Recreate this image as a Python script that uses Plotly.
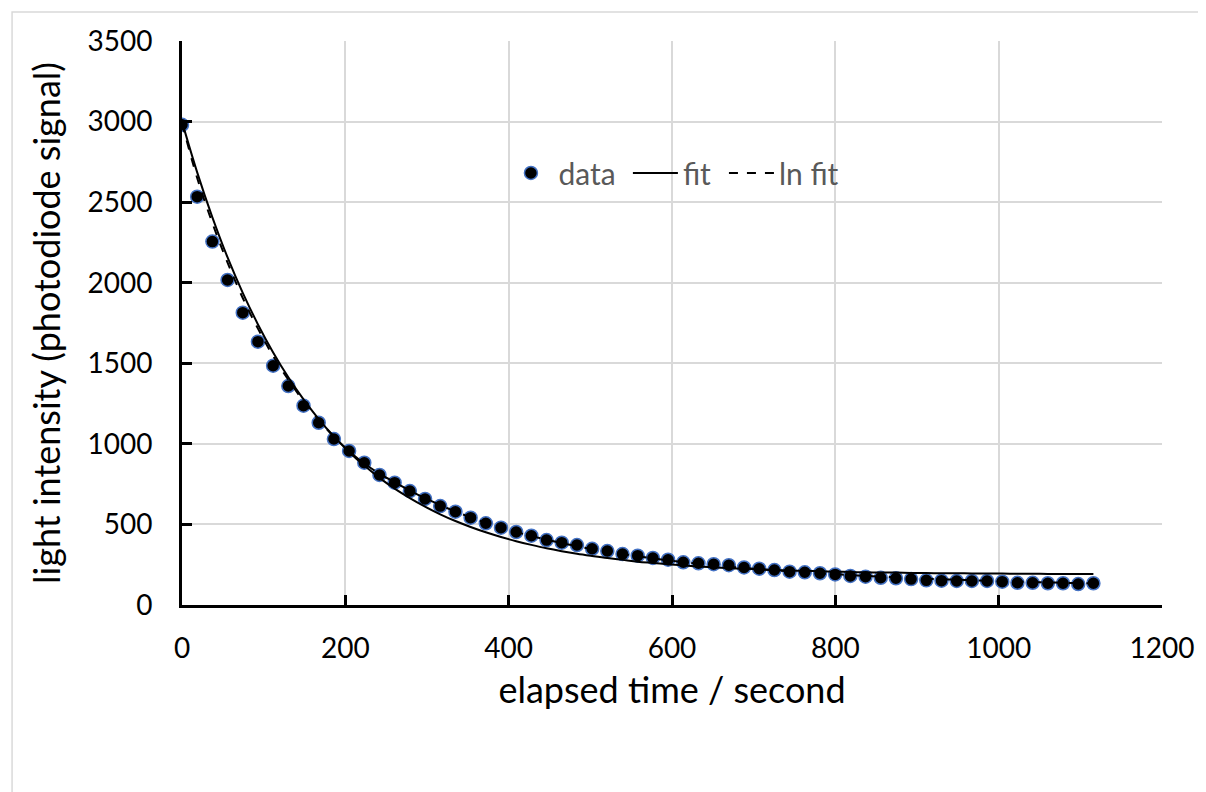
import plotly.graph_objects as go

# elapsed time (s)
time_s = [0, 18.6, 37.2, 55.8, 74.4, 93, 111.6, 130.2, 148.8, 167.4, 186, 204.6, 223.2,
          241.8, 260.4, 279, 297.6, 316.2, 334.8, 353.4, 372, 390.6, 409.2, 427.8, 446.4,
          465, 483.6, 502.2, 520.8, 539.4, 558, 576.6, 595.2, 613.8, 632.4, 651, 669.6,
          688.2, 706.8, 725.4, 744, 762.6, 781.2, 799.8, 818.4, 837, 855.6, 874.2, 892.8,
          911.4, 930, 948.6, 967.2, 985.8, 1004.4, 1023, 1041.6, 1060.2, 1078.8, 1097.4, 1116]

# measured photodiode signal
data_vals = [2980, 2534, 2255, 2017, 1814, 1634, 1485, 1359, 1237, 1131, 1030, 956, 883,
             807, 759, 707, 658, 614, 579, 542, 507, 480, 453, 430, 403,
             387, 372, 349, 335, 316, 306, 292, 281, 265, 259, 253, 247,
             233, 225, 217, 207, 203, 197, 190, 180, 176, 169, 166, 161,
             153, 151, 149, 149, 149, 145, 138, 138, 135, 135, 130, 135]

# exponential fit (solid line)
fit_vals = [3000, 2685, 2406, 2157, 1937, 1741, 1567, 1413, 1276, 1154, 1046, 950, 865,
            789, 722, 663, 610, 563, 521, 484, 451, 422, 396, 373, 352,
            334, 318, 304, 291, 280, 269, 261, 253, 246, 239, 234, 229,
            225, 221, 217, 214, 212, 209, 207, 205, 203, 202, 201, 199,
            198, 197, 197, 196, 195, 195, 194, 194, 193, 193, 193, 192]

# ln fit (dashed line)
lnfit_vals = [2990, 2650, 2370, 2125, 1905, 1715, 1545, 1398, 1265, 1148, 1045, 955, 878,
              815, 762, 710, 663, 620, 580, 544, 510, 480, 453, 428, 405,
              384, 365, 347, 331, 316, 302, 289, 277, 266, 256, 247, 238,
              230, 223, 216, 209, 203, 197, 191, 186, 181, 176, 172, 168,
              164, 160, 157, 154, 151, 148, 145, 143, 140, 138, 136, 134]

x_ticks = [0, 200, 400, 600, 800, 1000, 1200]
y_ticks = [0, 500, 1000, 1500, 2000, 2500, 3000, 3500]

FONT = "Lato"

fig = go.Figure()
fig.add_trace(go.Scatter(
    x=time_s, y=data_vals, mode="markers", name="data", legend="legend",
    marker=dict(size=13, color="black", line=dict(color="#4472C4", width=1.5)),
))
fig.add_trace(go.Scatter(
    x=time_s, y=fit_vals, mode="lines", name="fit", line_shape="spline", legend="legend2",
    line=dict(color="black", width=2),
))
fig.add_trace(go.Scatter(
    x=time_s, y=lnfit_vals, mode="lines", name="ln fit", line_shape="spline", legend="legend3",
    line=dict(color="black", width=2, dash="dash"),
))

legend_common = dict(
    orientation="h", y=0.766, xanchor="left", yanchor="middle",
    font=dict(family=FONT, size=30, color="#595959"),
    bgcolor="rgba(0,0,0,0)", itemwidth=45,
)

# page has an 8px body margin, so the figure is sized/positioned to compensate
fig.update_layout(
    width=1198, height=784, autosize=False,
    margin=dict(l=174, r=38, t=33, b=187),
    paper_bgcolor="white", plot_bgcolor="white",
    font=dict(family=FONT, color="black"),
    showlegend=True,
    legend=dict(x=0.328, **legend_common),
    legend2=dict(x=0.455, **legend_common),
    legend3=dict(x=0.553, **legend_common),
    xaxis=dict(
        range=[0, 1200], tickvals=x_ticks, ticktext=[str(v) for v in x_ticks],
        showgrid=True, gridcolor="#d9d9d9", gridwidth=1.5, zeroline=False,
        showline=True, linecolor="black", linewidth=3,
        ticks="inside", ticklen=10, tickwidth=3, tickcolor="black",
        tickfont=dict(family=FONT, size=28, color="black"),
        ticklabelstandoff=16,
        title=dict(text="elapsed time / second", font=dict(family=FONT, size=36, color="black"), standoff=16),
    ),
    yaxis=dict(
        range=[0, 3500], tickvals=y_ticks, ticktext=[str(v) for v in y_ticks],
        showgrid=True, gridcolor="#d9d9d9", gridwidth=1.5, zeroline=False,
        showline=True, linecolor="black", linewidth=3,
        ticks="inside", ticklen=10, tickwidth=3, tickcolor="black",
        tickfont=dict(family=FONT, size=28, color="black"),
        ticklabelstandoff=21,
        title=dict(text="light intensity (photodiode signal)", font=dict(family=FONT, size=36, color="black"), standoff=16),
    ),
    shapes=[dict(
        type="rect", xref="paper", yref="paper",
        x0=-0.1734, x1=1.2, y0=-0.6, y1=1.0514,
        line=dict(color="#d9d9d9", width=1.5), fillcolor="rgba(0,0,0,0)", layer="below",
    )],
)

fig.write_html("out.html")
